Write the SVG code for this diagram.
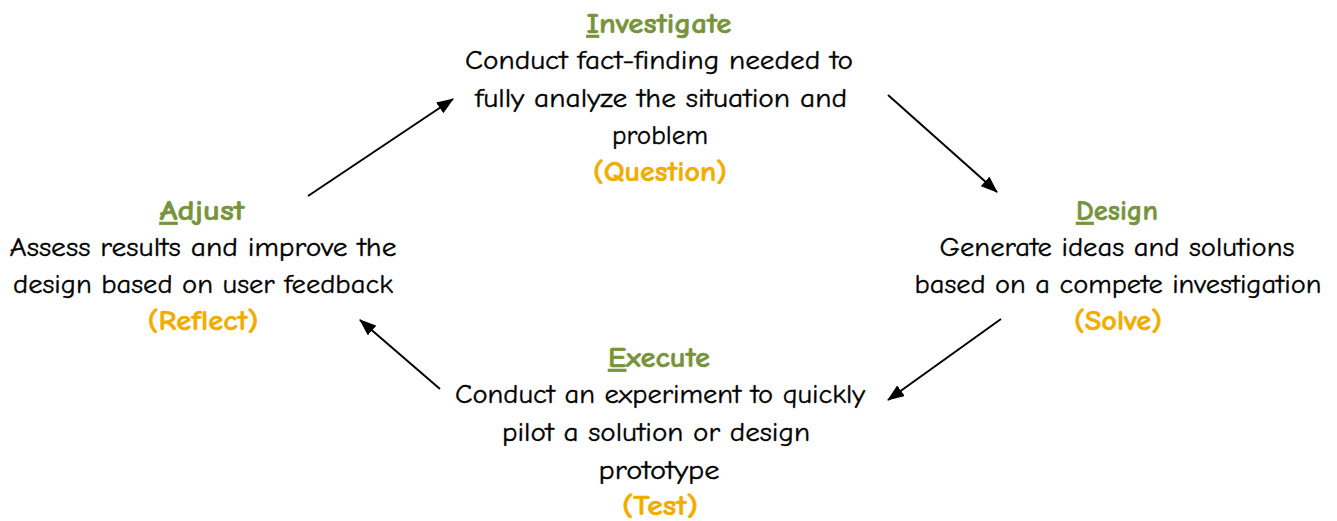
<svg xmlns="http://www.w3.org/2000/svg" width="1337" height="521" viewBox="0 0 1337 521">
<style>
text{font-family:"Comic Sans MS","Comic Neue","Noto Sans",sans-serif;text-anchor:middle}
.t{font-size:28px;font-weight:bold;fill:#77933C;stroke:#77933C;stroke-width:0.5}
.b{font-size:26px;fill:#000;stroke:#000;stroke-width:0.35}
.o{font-size:28px;font-weight:bold;fill:#F0AD00;stroke:#F0AD00;stroke-width:0.5}
.u{text-decoration:underline}
.c{stroke:#000;stroke-width:2;fill:none}
</style>
<defs>
<marker id="ah" viewBox="0 0 17 13" refX="16" refY="6.5" markerWidth="17" markerHeight="13" markerUnits="userSpaceOnUse" orient="auto">
<path d="M0,0 L17,6.5 L0,13 Z" fill="#000"/>
</marker>
</defs>
<rect width="1337" height="521" fill="#fff"/>
<g id="investigate">
<text class="t" x="659" y="33" textLength="145" lengthAdjust="spacingAndGlyphs"><tspan class="u">I</tspan>nvestigate</text>
<text class="b" x="659" y="69" textLength="388" lengthAdjust="spacingAndGlyphs">Conduct fact-finding needed to</text>
<text class="b" x="661" y="107" textLength="372" lengthAdjust="spacingAndGlyphs">fully analyze the situation and</text>
<text class="b" x="660" y="144" textLength="96" lengthAdjust="spacingAndGlyphs">problem</text>
<text class="o" x="660" y="181" textLength="134" lengthAdjust="spacingAndGlyphs">(Question)</text>
</g>
<g id="adjust">
<text class="t" x="202" y="220" textLength="85" lengthAdjust="spacingAndGlyphs"><tspan class="u">A</tspan>djust</text>
<text class="b" x="203" y="256" textLength="387" lengthAdjust="spacingAndGlyphs">Assess results and improve the</text>
<text class="b" x="203" y="293" textLength="380" lengthAdjust="spacingAndGlyphs">design based on user feedback</text>
<text class="o" x="203" y="330" textLength="111" lengthAdjust="spacingAndGlyphs">(Reflect)</text>
</g>
<g id="design">
<text class="t" x="1117" y="220" textLength="82" lengthAdjust="spacingAndGlyphs"><tspan class="u">D</tspan>esign</text>
<text class="b" x="1117" y="256" textLength="355" lengthAdjust="spacingAndGlyphs">Generate ideas and solutions</text>
<text class="b" x="1118" y="293" textLength="407" lengthAdjust="spacingAndGlyphs">based on a compete investigation</text>
<text class="o" x="1118" y="330" textLength="88" lengthAdjust="spacingAndGlyphs">(Solve)</text>
</g>
<g id="execute">
<text class="t" x="659" y="367" textLength="102" lengthAdjust="spacingAndGlyphs"><tspan class="u">E</tspan>xecute</text>
<text class="b" x="660" y="403" textLength="410" lengthAdjust="spacingAndGlyphs">Conduct an experiment to quickly</text>
<text class="b" x="656" y="441" textLength="308" lengthAdjust="spacingAndGlyphs">pilot a solution or design</text>
<text class="b" x="659" y="479" textLength="121" lengthAdjust="spacingAndGlyphs">prototype</text>
<text class="o" x="660" y="515" textLength="76" lengthAdjust="spacingAndGlyphs">(Test)</text>
</g>
<g id="connectors">
<line class="c" x1="308" y1="196" x2="453" y2="99" marker-end="url(#ah)"/>
<line class="c" x1="888" y1="95" x2="997" y2="192" marker-end="url(#ah)"/>
<line class="c" x1="1001" y1="319" x2="888" y2="400" marker-end="url(#ah)"/>
<line class="c" x1="440" y1="389" x2="360" y2="320" marker-end="url(#ah)"/>
</g>
</svg>
